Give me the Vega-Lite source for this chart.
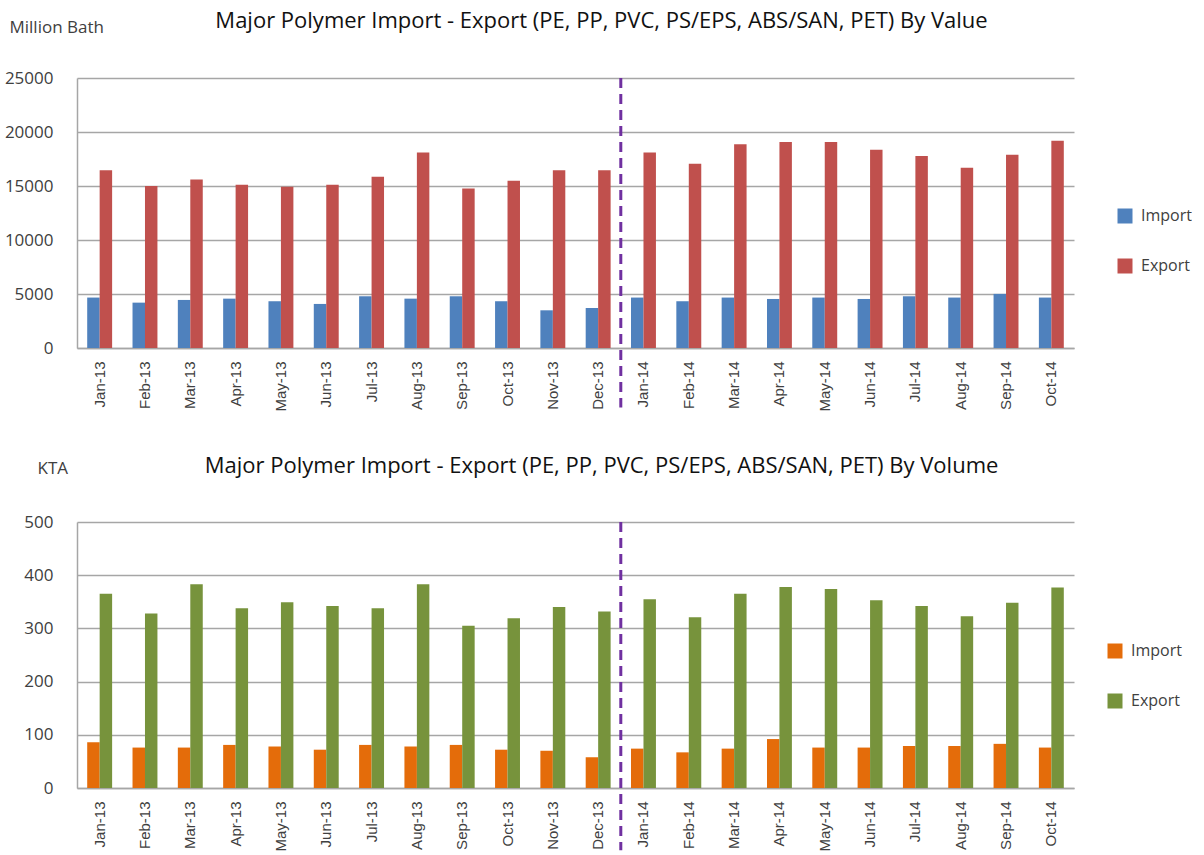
{
  "$schema": "https://vega.github.io/schema/vega-lite/v6.json",
  "background": "white",
  "padding": {"left": 4, "top": 10, "right": 0, "bottom": 0},
  "config": {
    "view": {"stroke": null},
    "font": "Open Sans",
    "title": {"font": "Open Sans", "fontSize": 22, "fontWeight": "normal", "color": "#111111", "anchor": "middle"},
    "axisY": {"grid": true, "gridColor": "#a6a6a6", "gridWidth": 1.5, "domain": true, "domainColor": "#a6a6a6", "domainWidth": 1.5, "ticks": false, "labelPadding": 24, "labelFont": "Open Sans", "labelFontSize": 17, "labelColor": "#404040", "titleAngle": 0, "titleAlign": "left", "titleBaseline": "middle", "titleFont": "Open Sans", "titleFontSize": 17, "titleFontWeight": "normal", "titleColor": "#404040"},
    "axisX": {"grid": false, "domainColor": "#a6a6a6", "domainWidth": 1.5, "ticks": false, "labelAngle": -90, "labelFont": "Liberation Sans", "labelFontSize": 15, "labelColor": "#404040", "labelPadding": 13, "title": null},
    "legend": {"title": null, "orient": "none", "symbolType": "square", "symbolSize": 225, "symbolStrokeWidth": 0, "labelFont": "Open Sans", "labelFontSize": 16, "labelColor": "#404040", "labelOffset": 8, "rowPadding": 34},
    "concat": {"spacing": 43}
  },
  "datasets": {
    "value": [
      {"month": "Jan-13", "series": "Import", "value": 4670}, {"month": "Jan-13", "series": "Export", "value": 16450},
      {"month": "Feb-13", "series": "Import", "value": 4200}, {"month": "Feb-13", "series": "Export", "value": 15000},
      {"month": "Mar-13", "series": "Import", "value": 4450}, {"month": "Mar-13", "series": "Export", "value": 15610},
      {"month": "Apr-13", "series": "Import", "value": 4570}, {"month": "Apr-13", "series": "Export", "value": 15120},
      {"month": "May-13", "series": "Import", "value": 4330}, {"month": "May-13", "series": "Export", "value": 14930},
      {"month": "Jun-13", "series": "Import", "value": 4080}, {"month": "Jun-13", "series": "Export", "value": 15120},
      {"month": "Jul-13", "series": "Import", "value": 4790}, {"month": "Jul-13", "series": "Export", "value": 15860},
      {"month": "Aug-13", "series": "Import", "value": 4570}, {"month": "Aug-13", "series": "Export", "value": 18110},
      {"month": "Sep-13", "series": "Import", "value": 4790}, {"month": "Sep-13", "series": "Export", "value": 14780},
      {"month": "Oct-13", "series": "Import", "value": 4330}, {"month": "Oct-13", "series": "Export", "value": 15490},
      {"month": "Nov-13", "series": "Import", "value": 3490}, {"month": "Nov-13", "series": "Export", "value": 16450},
      {"month": "Dec-13", "series": "Import", "value": 3710}, {"month": "Dec-13", "series": "Export", "value": 16450},
      {"month": "Jan-14", "series": "Import", "value": 4670}, {"month": "Jan-14", "series": "Export", "value": 18110},
      {"month": "Feb-14", "series": "Import", "value": 4330}, {"month": "Feb-14", "series": "Export", "value": 17060},
      {"month": "Mar-14", "series": "Import", "value": 4670}, {"month": "Mar-14", "series": "Export", "value": 18860},
      {"month": "Apr-14", "series": "Import", "value": 4540}, {"month": "Apr-14", "series": "Export", "value": 19070},
      {"month": "May-14", "series": "Import", "value": 4670}, {"month": "May-14", "series": "Export", "value": 19070},
      {"month": "Jun-14", "series": "Import", "value": 4540}, {"month": "Jun-14", "series": "Export", "value": 18360},
      {"month": "Jul-14", "series": "Import", "value": 4790}, {"month": "Jul-14", "series": "Export", "value": 17770},
      {"month": "Aug-14", "series": "Import", "value": 4670}, {"month": "Aug-14", "series": "Export", "value": 16690},
      {"month": "Sep-14", "series": "Import", "value": 5010}, {"month": "Sep-14", "series": "Export", "value": 17900},
      {"month": "Oct-14", "series": "Import", "value": 4670}, {"month": "Oct-14", "series": "Export", "value": 19200}
    ],
    "volume": [
      {"month": "Jan-13", "series": "Import", "value": 86}, {"month": "Jan-13", "series": "Export", "value": 365},
      {"month": "Feb-13", "series": "Import", "value": 76}, {"month": "Feb-13", "series": "Export", "value": 328},
      {"month": "Mar-13", "series": "Import", "value": 76}, {"month": "Mar-13", "series": "Export", "value": 383},
      {"month": "Apr-13", "series": "Import", "value": 81}, {"month": "Apr-13", "series": "Export", "value": 338},
      {"month": "May-13", "series": "Import", "value": 78}, {"month": "May-13", "series": "Export", "value": 349},
      {"month": "Jun-13", "series": "Import", "value": 72}, {"month": "Jun-13", "series": "Export", "value": 342},
      {"month": "Jul-13", "series": "Import", "value": 81}, {"month": "Jul-13", "series": "Export", "value": 338},
      {"month": "Aug-13", "series": "Import", "value": 78}, {"month": "Aug-13", "series": "Export", "value": 383},
      {"month": "Sep-13", "series": "Import", "value": 81}, {"month": "Sep-13", "series": "Export", "value": 305},
      {"month": "Oct-13", "series": "Import", "value": 72}, {"month": "Oct-13", "series": "Export", "value": 319},
      {"month": "Nov-13", "series": "Import", "value": 70}, {"month": "Nov-13", "series": "Export", "value": 340},
      {"month": "Dec-13", "series": "Import", "value": 58}, {"month": "Dec-13", "series": "Export", "value": 332},
      {"month": "Jan-14", "series": "Import", "value": 74}, {"month": "Jan-14", "series": "Export", "value": 355},
      {"month": "Feb-14", "series": "Import", "value": 67}, {"month": "Feb-14", "series": "Export", "value": 321},
      {"month": "Mar-14", "series": "Import", "value": 74}, {"month": "Mar-14", "series": "Export", "value": 365},
      {"month": "Apr-14", "series": "Import", "value": 92}, {"month": "Apr-14", "series": "Export", "value": 378},
      {"month": "May-14", "series": "Import", "value": 76}, {"month": "May-14", "series": "Export", "value": 374},
      {"month": "Jun-14", "series": "Import", "value": 76}, {"month": "Jun-14", "series": "Export", "value": 353},
      {"month": "Jul-14", "series": "Import", "value": 79}, {"month": "Jul-14", "series": "Export", "value": 342},
      {"month": "Aug-14", "series": "Import", "value": 79}, {"month": "Aug-14", "series": "Export", "value": 323},
      {"month": "Sep-14", "series": "Import", "value": 83}, {"month": "Sep-14", "series": "Export", "value": 348},
      {"month": "Oct-14", "series": "Import", "value": 76}, {"month": "Oct-14", "series": "Export", "value": 377}
    ],
    "divider": [{"month": "Jan-14"}]
  },
  "vconcat": [
    {
      "width": 997,
      "height": 270,
      "title": {"text": "Major Polymer Import - Export (PE, PP, PVC, PS/EPS, ABS/SAN, PET) By Value", "dx": 26, "offset": -15},
      "layer": [
        {
          "data": {"name": "value"},
          "mark": {"type": "bar"},
          "encoding": {
            "x": {"field": "month", "type": "nominal", "sort": null, "scale": {"paddingInner": 0.45, "paddingOuter": 0.225}},
            "xOffset": {"field": "series", "type": "nominal", "sort": ["Import", "Export"], "scale": {"paddingInner": 0, "paddingOuter": 0}},
            "y": {"field": "value", "type": "quantitative", "scale": {"domain": [0, 25000], "nice": false}, "axis": {"title": "Million Bath", "values": [0, 5000, 10000, 15000, 20000, 25000], "format": "d", "titleX": -68, "titleY": -51}},
            "color": {"field": "series", "type": "nominal", "scale": {"domain": ["Import", "Export"], "range": ["#4f81bd", "#c0504d"]}, "legend": {"legendX": 1040, "legendY": 130}}
          }
        },
        {
          "data": {"name": "divider"},
          "mark": {"type": "rule", "color": "#7030a0", "strokeWidth": 3, "strokeDash": [10, 6]},
          "encoding": {
            "x": {"field": "month", "type": "nominal", "sort": null, "bandPosition": -0.41},
            "y": {"datum": 25000},
            "y2": {"datum": -5500}
          }
        }
      ]
    },
    {
      "width": 997,
      "height": 266,
      "title": {"text": "Major Polymer Import - Export (PE, PP, PVC, PS/EPS, ABS/SAN, PET) By Volume", "dx": 26, "offset": -19},
      "layer": [
        {
          "data": {"name": "volume"},
          "mark": {"type": "bar"},
          "encoding": {
            "x": {"field": "month", "type": "nominal", "sort": null, "scale": {"paddingInner": 0.45, "paddingOuter": 0.225}},
            "xOffset": {"field": "series", "type": "nominal", "sort": ["Import", "Export"], "scale": {"paddingInner": 0, "paddingOuter": 0}},
            "y": {"field": "value", "type": "quantitative", "scale": {"domain": [0, 500], "nice": false}, "axis": {"title": "KTA", "values": [0, 100, 200, 300, 400, 500], "titleX": -40, "titleY": -54}},
            "color": {"field": "series", "type": "nominal", "scale": {"domain": ["Import", "Export"], "range": ["#e46c0a", "#77933c"]}, "legend": {"legendX": 1030, "legendY": 121}}
          }
        },
        {
          "data": {"name": "divider"},
          "mark": {"type": "rule", "color": "#7030a0", "strokeWidth": 3, "strokeDash": [10, 6]},
          "encoding": {
            "x": {"field": "month", "type": "nominal", "sort": null, "bandPosition": -0.41},
            "y": {"datum": 500},
            "y2": {"datum": -117}
          }
        }
      ]
    }
  ],
  "resolve": {"scale": {"color": "independent"}}
}
